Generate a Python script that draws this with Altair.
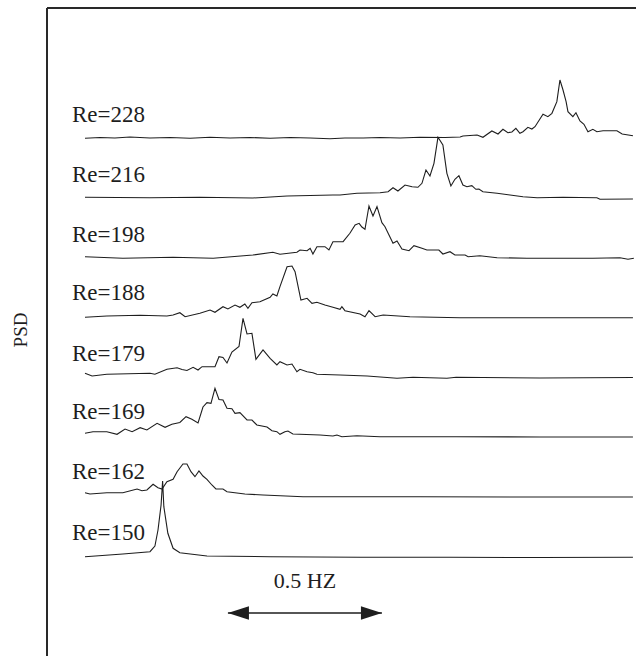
import altair as alt
import pandas as pd

# Reynolds numbers of the stacked spectra (bottom to top)
re_numbers = [150, 162, 169, 179, 188, 198, 216, 228]

# Vertical offset of each spectrum in the waterfall (PSD units)
trace_offset = [98.5, 159, 219, 277.5, 338, 396.5, 456.5, 516.5]

# Frequency (Hz) and PSD (arbitrary units) of each spectrum
freq_150 = [0.000, 0.123, 0.211, 0.227, 0.237, 0.247, 0.252, 0.256, 0.269, 0.286, 0.308, 0.396, 0.601, 0.893, 1.185, 1.477, 1.779]
psd_150 = [0.8, 3.5, 5.8, 11.5, 27.5, 52.5, 76.5, 50.8, 24.2, 9.2, 4.8, 1.5, 0.8, 0.2, 0.2, 0.0, 0.2]

freq_162 = [0.000, 0.016, 0.071, 0.123, 0.169, 0.185, 0.201, 0.221, 0.237, 0.250, 0.266, 0.286, 0.299, 0.318, 0.331, 0.344, 0.357, 0.370, 0.383, 0.396, 0.412, 0.425, 0.448, 0.461, 0.519, 0.578, 0.708, 0.893, 1.088, 1.412, 1.779]
psd_162 = [4.3, 3.0, 4.3, 4.3, 8.0, 6.3, 7.0, 12.7, 9.3, 8.0, 15.3, 17.7, 25.3, 33.0, 33.0, 25.3, 20.3, 26.0, 21.0, 17.7, 12.0, 8.0, 8.0, 5.3, 3.0, 2.0, 0.3, 0.3, 0.3, 0.0, 0.0]

freq_169 = [0.000, 0.026, 0.071, 0.104, 0.130, 0.153, 0.179, 0.201, 0.234, 0.260, 0.282, 0.308, 0.328, 0.347, 0.367, 0.383, 0.396, 0.409, 0.422, 0.435, 0.448, 0.461, 0.477, 0.487, 0.503, 0.526, 0.542, 0.558, 0.591, 0.607, 0.623, 0.633, 0.649, 0.659, 0.675, 0.763, 0.805, 0.818, 0.834, 0.883, 0.958, 1.205, 1.477, 1.779]
psd_169 = [3.7, 5.3, 5.3, 2.7, 8.0, 5.3, 9.3, 7.0, 13.7, 9.7, 12.7, 14.5, 20.3, 17.7, 14.0, 30.0, 34.3, 33.7, 48.7, 37.5, 37.0, 28.7, 28.2, 23.7, 24.3, 17.0, 17.0, 12.0, 10.0, 6.3, 5.3, 2.7, 5.3, 6.0, 3.0, 2.0, 1.0, 2.0, 0.3, 1.3, 0.3, 0.3, 0.0, 0.0]

freq_179 = [0.000, 0.023, 0.071, 0.211, 0.227, 0.266, 0.299, 0.315, 0.331, 0.351, 0.367, 0.380, 0.422, 0.435, 0.448, 0.461, 0.477, 0.500, 0.513, 0.526, 0.542, 0.555, 0.578, 0.601, 0.623, 0.633, 0.656, 0.672, 0.688, 0.698, 0.721, 0.740, 0.753, 0.828, 0.916, 1.013, 1.065, 1.175, 1.205, 1.477, 1.779]
psd_179 = [5.2, 2.5, 4.2, 5.2, 4.2, 9.2, 10.8, 9.0, 8.0, 11.2, 8.5, 11.8, 11.8, 21.8, 21.0, 15.5, 26.5, 32.0, 60.2, 44.5, 45.2, 19.2, 28.5, 20.2, 13.5, 16.8, 13.5, 14.5, 6.8, 9.2, 6.8, 5.8, 4.2, 3.5, 2.5, 0.2, 1.2, 0.2, 1.2, 0.5, 1.0]

freq_188 = [0.000, 0.071, 0.179, 0.266, 0.286, 0.308, 0.325, 0.373, 0.406, 0.422, 0.448, 0.464, 0.487, 0.503, 0.519, 0.529, 0.542, 0.568, 0.601, 0.610, 0.623, 0.633, 0.656, 0.672, 0.682, 0.692, 0.701, 0.721, 0.737, 0.753, 0.779, 0.805, 0.828, 0.834, 0.844, 0.893, 0.909, 0.922, 0.942, 0.968, 1.055, 1.218, 1.435, 1.649, 1.779]
psd_188 = [0.7, 2.0, 2.7, 2.0, 3.0, 5.3, 1.3, 4.7, 8.0, 5.7, 11.3, 9.0, 13.0, 10.7, 14.0, 9.7, 15.3, 16.3, 20.7, 24.0, 22.0, 31.3, 51.3, 52.0, 46.3, 31.3, 18.0, 19.7, 14.7, 15.7, 13.0, 10.7, 8.7, 11.3, 7.3, 4.0, 1.3, 7.3, 1.3, 3.0, 1.3, 0.3, 0.3, 0.3, 0.3]

freq_198 = [0.000, 0.123, 0.286, 0.416, 0.545, 0.610, 0.633, 0.688, 0.698, 0.721, 0.731, 0.740, 0.753, 0.779, 0.792, 0.805, 0.838, 0.860, 0.877, 0.890, 0.899, 0.909, 0.922, 0.935, 0.948, 0.964, 0.974, 1.000, 1.013, 1.029, 1.052, 1.068, 1.094, 1.110, 1.149, 1.162, 1.185, 1.201, 1.234, 1.244, 1.282, 1.338, 1.435, 1.542, 1.649, 1.737, 1.763, 1.782]
psd_198 = [2.8, 1.2, 2.2, 1.2, 4.5, 7.2, 5.2, 7.2, 9.5, 8.8, 11.2, 5.5, 12.8, 12.8, 9.5, 17.8, 17.8, 26.2, 34.5, 36.2, 32.5, 30.2, 53.5, 43.5, 53.0, 36.8, 32.8, 16.2, 18.5, 10.5, 8.8, 13.8, 11.2, 9.5, 9.5, 5.5, 7.8, 4.5, 4.5, 2.8, 3.8, 1.8, 1.2, 1.2, 1.2, 1.8, 0.2, 1.2]

freq_216 = [0.000, 0.211, 0.373, 0.545, 0.656, 0.731, 0.805, 0.828, 0.883, 0.958, 0.984, 1.000, 1.016, 1.039, 1.062, 1.081, 1.094, 1.107, 1.120, 1.133, 1.146, 1.162, 1.175, 1.188, 1.201, 1.214, 1.227, 1.240, 1.256, 1.269, 1.279, 1.292, 1.338, 1.380, 1.422, 1.468, 1.552, 1.662, 1.672, 1.779]
psd_216 = [2.2, 1.7, 2.2, 1.5, 3.5, 4.0, 4.5, 4.5, 6.2, 6.8, 7.8, 11.8, 8.5, 14.5, 12.8, 12.2, 16.2, 29.5, 23.5, 36.2, 62.2, 54.5, 26.2, 13.5, 20.2, 23.8, 14.5, 12.8, 13.8, 10.2, 10.5, 7.8, 6.2, 4.5, 2.8, 1.8, 2.2, 1.8, 0.2, 0.5]

freq_228 = [0.000, 0.049, 0.097, 0.146, 0.211, 0.276, 0.341, 0.406, 0.471, 0.536, 0.601, 0.666, 0.731, 0.795, 0.844, 0.903, 0.958, 1.023, 1.088, 1.169, 1.218, 1.227, 1.273, 1.292, 1.321, 1.341, 1.357, 1.373, 1.386, 1.399, 1.412, 1.422, 1.438, 1.451, 1.461, 1.487, 1.503, 1.516, 1.532, 1.542, 1.552, 1.562, 1.568, 1.584, 1.594, 1.607, 1.620, 1.633, 1.649, 1.662, 1.682, 1.727, 1.744, 1.779]
psd_228 = [1.2, 2.0, 1.5, 2.5, 1.5, 2.0, 1.3, 2.2, 1.5, 2.0, 1.2, 2.0, 1.5, 0.7, 1.5, 1.5, 2.0, 1.5, 2.2, 2.0, 2.5, 3.5, 4.5, 2.2, 8.5, 5.5, 10.2, 6.8, 7.5, 11.2, 6.2, 7.8, 12.2, 10.5, 12.8, 25.2, 22.8, 26.2, 37.8, 59.5, 49.5, 37.8, 27.8, 22.8, 26.8, 18.5, 15.2, 7.8, 10.2, 7.8, 8.8, 8.8, 5.5, 3.8]

# Frequency scale bar
scale_bar_start_hz = 0.464
scale_bar_span_hz = 0.5

spectra = [
    (freq_150, psd_150), (freq_162, psd_162), (freq_169, psd_169), (freq_179, psd_179),
    (freq_188, psd_188), (freq_198, psd_198), (freq_216, psd_216), (freq_228, psd_228),
]

frames = []
for re_val, offset, (f, p) in zip(re_numbers, trace_offset, spectra):
    d = pd.DataFrame({"freq": f, "psd": p})
    d["re"] = re_val
    d["idx"] = range(len(d))
    d["level"] = d["psd"] + offset
    frames.append(d)
spec_df = pd.concat(frames, ignore_index=True)

label_df = pd.DataFrame({
    "label": [f"Re={r}" for r in re_numbers],
    "level": trace_offset,
})

bar_df = pd.DataFrame({
    "start": [scale_bar_start_hz],
    "end": [scale_bar_start_hz + scale_bar_span_hz],
    "mid": [scale_bar_start_hz + scale_bar_span_hz / 2],
    "text": [f"{scale_bar_span_hz} HZ"],
})

W, H = 636, 656
INK = "#1e1e1e"
FONT = "Liberation Serif"

x_scale = alt.Scale(domain=[-85 / 308, 551 / 308], nice=False, zero=False)
y_scale = alt.Scale(domain=[0, H], nice=False, zero=False)
no_axis = None

lines = alt.Chart(spec_df).mark_line(color=INK, strokeWidth=1.1, strokeJoin="miter").encode(
    x=alt.X("freq:Q", scale=x_scale, axis=no_axis),
    y=alt.Y("level:Q", scale=y_scale, axis=no_axis),
    detail="re:N",
    order="idx:Q",
)

labels = alt.Chart(label_df).mark_text(
    font=FONT, fontSize=23, color=INK, align="left", baseline="alphabetic", dy=-18
).encode(
    x=alt.value(72),
    y=alt.Y("level:Q", scale=y_scale, axis=no_axis),
    text="label:N",
)

# Plot frame (left and top edges)
frame_left = alt.Chart(label_df).mark_rule(color="#2a2a2a", strokeWidth=1.6).encode(
    x=alt.value(47), y=alt.value(8), y2=alt.value(H)
)
frame_top = alt.Chart(label_df).mark_rule(color="#2a2a2a", strokeWidth=1.6).encode(
    x=alt.value(47), x2=alt.value(W), y=alt.value(8)
)

psd_title = alt.Chart(bar_df).mark_text(
    text="PSD", font=FONT, fontSize=19, color=INK, angle=270, align="center", baseline="middle"
).encode(x=alt.value(21), y=alt.value(330))

shaft = alt.Chart(bar_df).mark_rule(color=INK, strokeWidth=1.5).encode(
    x=alt.X("start:Q", scale=x_scale, axis=no_axis),
    x2="end:Q",
    y=alt.value(613),
)

head_left = alt.Chart(bar_df).mark_point(
    shape="M 0 0 L 1 -0.32 L 1 0.32 Z", size=1764, filled=True, color=INK, opacity=1, strokeWidth=0
).encode(x=alt.X("start:Q", scale=x_scale, axis=no_axis), y=alt.value(613))

head_right = alt.Chart(bar_df).mark_point(
    shape="M 0 0 L -1 -0.32 L -1 0.32 Z", size=1764, filled=True, color=INK, opacity=1, strokeWidth=0
).encode(x=alt.X("end:Q", scale=x_scale, axis=no_axis), y=alt.value(613))

bar_text = alt.Chart(bar_df).mark_text(
    font=FONT, fontSize=22, color=INK, align="center", baseline="alphabetic"
).encode(
    x=alt.X("mid:Q", scale=x_scale, axis=no_axis),
    y=alt.value(588),
    text="text:N",
)

chart = alt.layer(
    frame_left, frame_top, lines, labels, psd_title, shaft, head_left, head_right, bar_text
).properties(
    width=W, height=H, autosize=alt.AutoSizeParams(type="none"), padding=0,
    background="white",
).configure_view(stroke=None)

chart.save("out.html", embed_options={"renderer": "svg", "actions": False})
